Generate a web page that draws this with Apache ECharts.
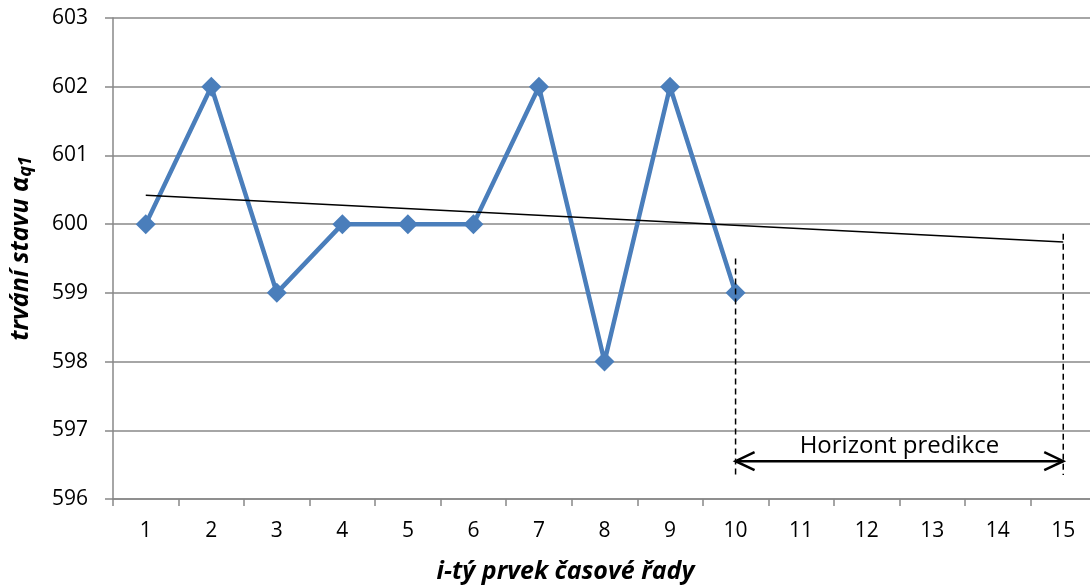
<!DOCTYPE html>
<html><head><meta charset="utf-8">
<script src="https://cdn.jsdelivr.net/npm/echarts@6/dist/echarts.min.js"></script>
<style>html,body{margin:0;padding:0;background:#fff;overflow:hidden}#c{width:1090px;height:586px}</style>
</head><body><div id="c"></div>
<script>
var categories = ['1','2','3','4','5','6','7','8','9','10','11','12','13','14','15'];
var values = [600, 602, 599, 600, 600, 600, 602, 598, 602, 599];
var trendStart = 600.42, trendEnd = 599.74;
var horizonStart = 10, horizonEnd = 15;
var horizonLine10 = [599.5, 596.35];
var horizonLine15 = [599.86, 596.35];
var arrowLevel = 596.55;
var horizonLabel = 'Horizont predikce';
var yMin = 596, yMax = 603, yStep = 1;

var trend = categories.map(function(_, i){ return i === 0 ? trendStart : (i === categories.length - 1 ? trendEnd : null); });
var font = '"Open Sans", sans-serif';
var chart = echarts.init(document.getElementById('c'));
var gridW = 983, gridH = 481;
// arrowhead geometry in px, converted into the hidden value-axis units
var ax = 19 / (gridW / 15), ay = 9 / (gridH / (yMax - yMin));
var deco = {type: 'line', xAxisIndex: 1, symbol: 'none', z: 5, silent: true};
chart.setOption({
  animation: false,
  grid: {left: 113, top: 18, width: gridW, height: gridH, containLabel: false, outerBoundsMode: 'none'},
  xAxis: [{
    type: 'category', data: categories, boundaryGap: true,
    name: 'i-tý prvek časové řady', nameLocation: 'middle', nameGap: 60,
    nameTextStyle: {fontFamily: font, fontSize: 25, fontWeight: 'bold', fontStyle: 'italic', color: '#000', padding: [0, 78, 0, 0]},
    axisLine: {lineStyle: {color: '#888', width: 1.5}},
    axisTick: {show: true, length: 7, lineStyle: {color: '#888', width: 1.5}},
    axisLabel: {fontFamily: font, fontSize: 21, color: '#000', margin: 22}
  }, {
    type: 'value', min: 0.5, max: 15.5, show: false
  }],
  yAxis: {
    type: 'value', min: yMin, max: yMax, interval: yStep,
    name: '{t|trvání stavu α}{s|q1}', nameLocation: 'middle', nameGap: 78,
    nameTextStyle: {padding: [0, 0, 0, 20], rich: {
      t: {fontFamily: font, fontSize: 25, fontWeight: 'bold', fontStyle: 'italic', color: '#000'},
      s: {fontFamily: font, fontSize: 18, fontWeight: 'bold', fontStyle: 'italic', color: '#000', verticalAlign: 'bottom', padding: [10,0,0,0]}
    }},
    axisLine: {show: true, lineStyle: {color: '#888', width: 1.5}},
    axisTick: {show: true, length: 8, lineStyle: {color: '#888', width: 1.5}},
    axisLabel: {fontFamily: font, fontSize: 21, color: '#000', margin: 25},
    splitLine: {lineStyle: {color: '#888', width: 1.5}}
  },
  series: [
    {type: 'line', data: values, symbol: 'diamond', symbolSize: 20, z: 3,
     lineStyle: {color: '#4a7ebb', width: 4.5}, itemStyle: {color: '#4a7ebb'}},
    {type: 'line', data: trend, connectNulls: true, symbol: 'none', z: 4,
     lineStyle: {color: '#000', width: 1.5}},
    Object.assign({}, deco, {data: [[horizonStart, horizonLine10[0]], [horizonStart, horizonLine10[1]]],
     lineStyle: {color: '#000', width: 1.5, type: [6, 4]}}),
    Object.assign({}, deco, {data: [[horizonEnd, horizonLine15[0]], [horizonEnd, horizonLine15[1]]],
     lineStyle: {color: '#000', width: 1.5, type: [6, 4]}}),
    Object.assign({}, deco, {data: [[horizonStart, arrowLevel], [horizonEnd, arrowLevel]],
     lineStyle: {color: '#000', width: 2.5}}),
    Object.assign({}, deco, {data: [[horizonStart + ax, arrowLevel + ay], [horizonStart, arrowLevel], [horizonStart + ax, arrowLevel - ay]],
     lineStyle: {color: '#000', width: 2.5, join: 'miter'}}),
    Object.assign({}, deco, {data: [[horizonEnd - ax, arrowLevel + ay], [horizonEnd, arrowLevel], [horizonEnd - ax, arrowLevel - ay]],
     lineStyle: {color: '#000', width: 2.5, join: 'miter'},
     markPoint: {symbol: 'rect', symbolSize: 1, itemStyle: {color: 'transparent'},
       label: {show: true, formatter: horizonLabel, fontFamily: font, fontSize: 24, color: '#000', position: 'inside'},
       data: [{coord: [(horizonStart + horizonEnd) / 2, arrowLevel + 0.22]}]}})
  ]
});
</script></body></html>
